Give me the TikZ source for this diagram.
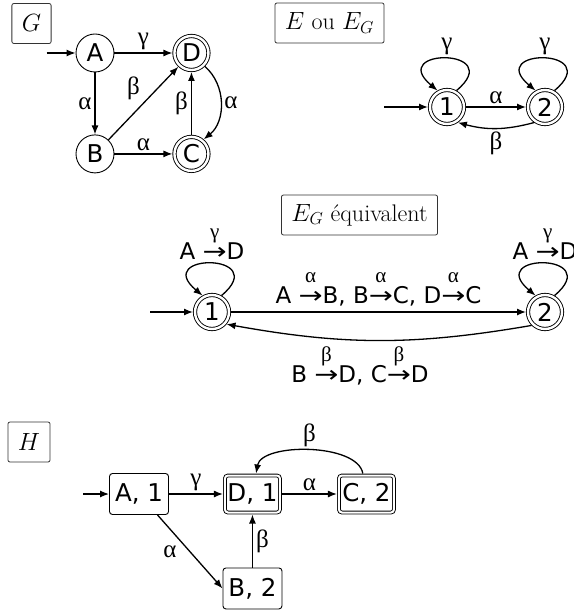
\documentclass[tikz,border=0pt]{standalone}
\usepackage{amsmath}
\usepackage{fontspec}
\usepackage{graphicx}
\newfontfamily\dejavu{DejaVu Sans}
\newfontfamily\greek{Liberation Serif}
\usetikzlibrary{positioning, arrows.meta, calc}

% labelled step A -x-> B
\newcommand{\via}[1]{\ensuremath{\overset{\raisebox{4pt}{\text{\greek\fontsize{21}{21}\selectfont #1}}}{\text{\scalebox{1.25}[1]{→}}}}}

\begin{document}
\begin{tikzpicture}[x=1pt, y=1pt,
    node distance=58pt,
    state/.style={draw, circle, line width=0.9pt, minimum size=38pt, inner sep=0pt,
      font=\dejavu\fontsize{24.5}{28}\selectfont},
    final/.style={state, double, double distance=2.4pt, minimum size=34pt, outer sep=2pt},
    box/.style={draw, rounded corners=3pt, line width=0.9pt, minimum width=59pt,
      minimum height=41pt, inner sep=0pt, font=\dejavu\fontsize{24.5}{28}\selectfont},
    finalbox/.style={box, double, double distance=2pt, minimum width=55pt,
      minimum height=37pt, outer sep=2pt},
    tag/.style={draw=black!80, rounded corners=2pt, line width=0.8pt, minimum height=40pt,
      inner xsep=10pt, font=\fontsize{24}{28}\selectfont},
    arr/.style={-{Latex[length=9pt, width=7pt]}, line width=1.3pt},
    lab/.style={font=\greek\fontsize{25}{27}\selectfont, inner sep=3pt},
    steps/.style={font=\dejavu\fontsize{23}{25}\selectfont, inner sep=3pt}
  ]
  \useasboundingbox (0,0) rectangle (573,-612);

  % G
  \node[tag] (tagG) at (31.5,-23.5) {$G$};
  \node[state] (A) at (95,-53) {A};
  \node[final, right=58pt of A] (D) {D};
  \node[state, below=62pt of A] (B) {B};
  \node[final, right=58pt of B] (C) {C};
  \coordinate[left=29pt of A] (startG);
  \draw[arr] (startG) -- (A);
  \draw[arr] (A) -- node[lab, above] {γ} (D);
  \draw[arr] (A) -- node[lab, left] {α} (B);
  \draw[arr] (B) -- node[lab, above left] {β} (D);
  \draw[arr] (B) -- node[lab, above] {α} (C);
  \draw[arr] (C) -- node[lab, left] {β} (D);
  \draw[arr] (D.-45) to[bend left=50] node[lab, right] {α} (C.50);

  % E ou E_G
  \node[tag] (tagE) at (329.5,-23) {$E$ ou $E_G$};
  \node[final] (one) at (447,-107) {1};
  \node[final, right=60pt of one] (two) {2};
  \coordinate[left=44pt of one] (startE);
  \draw[arr] (startE) -- (one);
  \draw[arr] (one.60) to[out=40, in=140, looseness=9] node[lab, above] {γ} (one.120);
  \draw[arr] (two.60) to[out=40, in=140, looseness=9] node[lab, above] {γ} (two.120);
  \draw[arr] (one) -- node[lab, above] {α} (two);
  \draw[arr] (two.-125) to[bend left=15] node[lab, below] {β} (one.-55);

  % E_G equivalent
  \node[tag] (tagEG) at (359.5,-215) {$E_G$ équivalent};
  \node[final] (oneG) at (212,-312) {1};
  \node[final, right=295pt of oneG] (twoG) {2};
  \coordinate[left=43pt of oneG] (startEG);
  \draw[arr] (startEG) -- (oneG);
  \draw[arr] (oneG.60) to[out=40, in=140, looseness=9]
    node[steps, above] {A \via{γ}D} (oneG.120);
  \draw[arr] (twoG.60) to[out=40, in=140, looseness=9]
    node[steps, above] {A \via{γ}D} (twoG.120);
  \draw[arr] (oneG) -- node[steps, above=2pt] {A \via{α}B, B\via{α}C, D\via{α}C} (twoG);
  \draw[arr] (twoG.-135) to[bend left=10]
    node[steps, below, xshift=-19pt] {B \via{β}D, C\via{β}D} (oneG.-40);

  % H
  \node[tag] (tagH) at (29,-442) {$H$};
  \node[box] (A1) at (139,-494) {A, 1};
  \node[finalbox, right=54pt of A1] (D1) {D, 1};
  \node[finalbox, right=55pt of D1] (C2) {C, 2};
  \node[box, below=53pt of D1] (B2) {B, 2};
  \coordinate[left=26pt of A1] (startH);
  \draw[arr] (startH) -- (A1);
  \draw[arr] (A1) -- node[lab, above] {γ} (D1);
  \draw[arr] (D1) -- node[lab, above] {α} (C2);
  \draw[arr] (C2) to[out=100, in=80, looseness=0.75] node[lab, above] {β} (D1);
  \draw[arr] (B2) -- node[lab, right] {β} (D1);
  \draw[arr] (A1) -- node[lab, left=10pt] {α} (B2.west);
\end{tikzpicture}
\end{document}
